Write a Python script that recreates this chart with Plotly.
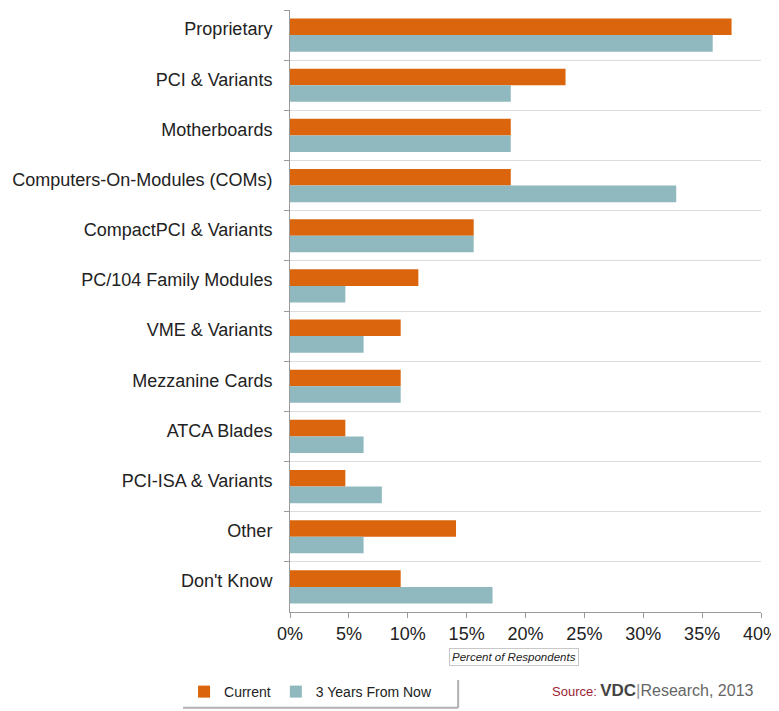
import plotly.graph_objects as go

categories = ["Proprietary", "PCI & Variants", "Motherboards", "Computers-On-Modules (COMs)",
              "CompactPCI & Variants", "PC/104 Family Modules", "VME & Variants", "Mezzanine Cards",
              "ATCA Blades", "PCI-ISA & Variants", "Other", "Don't Know"]
current = [37.5, 23.4, 18.75, 18.75, 15.6, 10.9, 9.4, 9.4, 4.7, 4.7, 14.1, 9.4]
future = [35.9, 18.75, 18.75, 32.8, 15.6, 4.7, 6.25, 9.4, 6.25, 7.8, 6.25, 17.2]
x_ticks = [0, 5, 10, 15, 20, 25, 30, 35, 40]
x_tick_labels = [f"{v}%" for v in x_ticks]

FONT = "Liberation Sans, Arial, sans-serif"
ORANGE = "#DA650C"
TEAL = "#8FB9BF"

fig = go.Figure()
fig.add_trace(go.Bar(y=categories, x=current, orientation="h", name="Current",
                     marker=dict(color=ORANGE, line=dict(width=0))))
fig.add_trace(go.Bar(y=categories, x=future, orientation="h", name="3 Years From Now",
                     marker=dict(color=TEAL, line=dict(width=0))))

fig.update_layout(
    width=779, height=703,
    margin=dict(l=282, r=26, t=2, b=99),
    paper_bgcolor="white", plot_bgcolor="white",
    barmode="group", bargap=0.34, bargroupgap=0,
    font=dict(family=FONT, color="#222222"),
    showlegend=True,
    legend=dict(orientation="h", xref="container", yref="container",
                x=0.226, y=0.027, xanchor="left", yanchor="middle",
                font=dict(size=14, color="#222222"), traceorder="normal",
                itemwidth=30, bgcolor="rgba(0,0,0,0)"),
    xaxis=dict(range=[0, 40], tickvals=x_ticks, ticktext=x_tick_labels,
               showgrid=False, zeroline=False, showline=True, linecolor="#9a9a9a", linewidth=1,
               ticks="outside", ticklen=5, tickcolor="#9a9a9a", ticklabeloverflow="allow",
               tickfont=dict(size=18, color="#222222"), fixedrange=True),
    yaxis=dict(type="category", categoryorder="array", categoryarray=categories,
               autorange="reversed", tickson="boundaries",
               showgrid=True, gridcolor="#dcdcdc", gridwidth=1,
               showline=True, linecolor="#9a9a9a", linewidth=1,
               ticks="outside", ticklen=5, tickcolor="#9a9a9a",
               tickfont=dict(size=18, color="#222222"), ticklabelstandoff=13,
               ticklabelshift=6),
    annotations=[
        dict(text="<i>Percent of Respondents</i>", xref="paper", yref="paper",
             x=0.475, y=-0.075, xanchor="center", yanchor="middle", showarrow=False,
             font=dict(size=11.5, color="#222222"), bgcolor="white",
             bordercolor="#c8c8c8", borderwidth=1, borderpad=2),
        dict(text=("<span style='color:#9B2335;font-size:13px'>Source:</span> "
                   "<span style='color:#444444;font-size:17px'><b>VDC</b></span>"
                   "<span style='color:#999999;font-size:17px'>|</span>"
                   "<span style='color:#666666;font-size:16px'>Research, 2013</span>"),
             xref="paper", yref="paper", x=0.99, y=-0.131,
             xanchor="right", yanchor="middle", showarrow=False),
    ],
    shapes=[
        dict(type="line", xref="paper", yref="paper", x0=-0.227, x1=0.357, y0=-0.159, y1=-0.159,
             line=dict(color="#b0b0b0", width=2)),
        dict(type="line", xref="paper", yref="paper", x0=0.357, x1=0.357, y0=-0.159, y1=-0.113,
             line=dict(color="#b0b0b0", width=2)),
    ],
)

fig.write_html("out.html")
